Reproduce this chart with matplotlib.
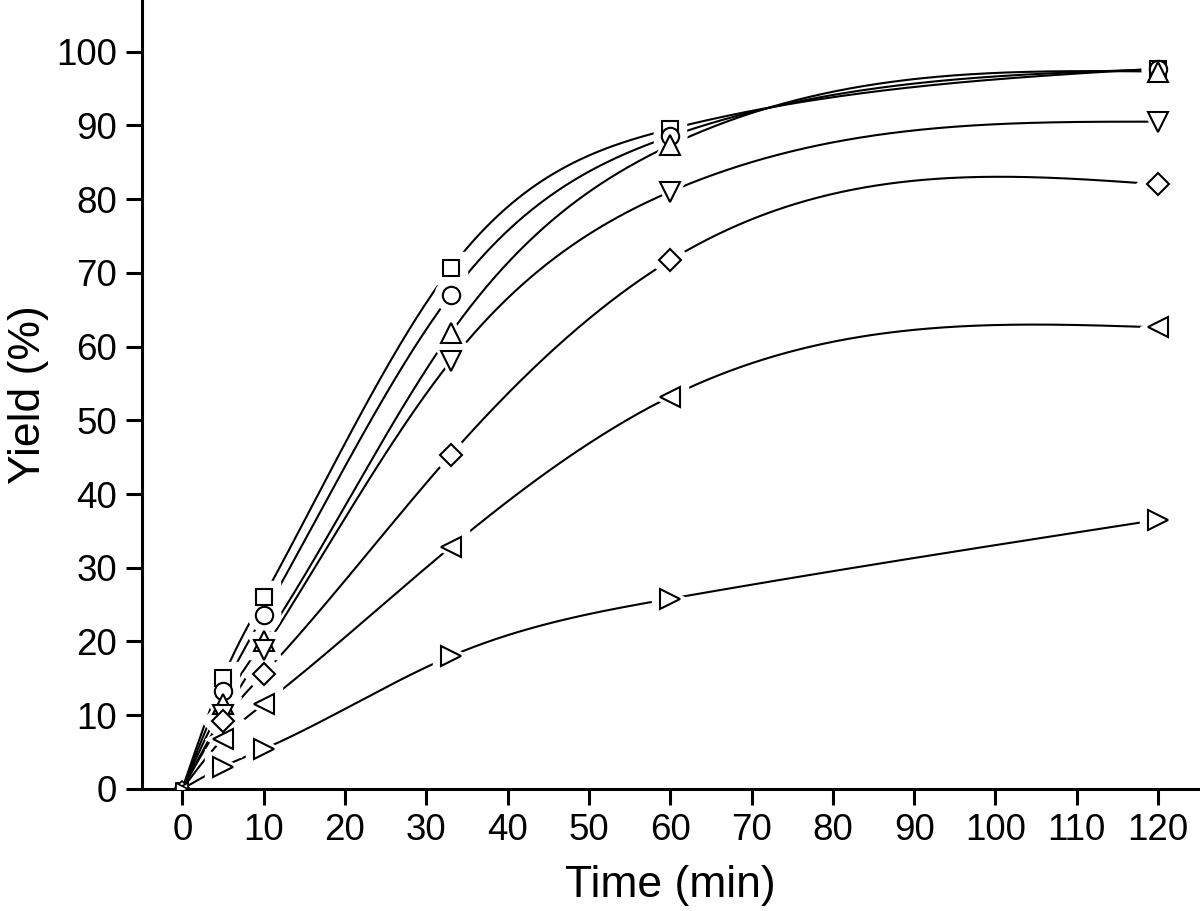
import numpy as np
import matplotlib
matplotlib.use("Agg")
import matplotlib.pyplot as plt

plt.rcParams['font.family'] = ['Liberation Sans', 'DejaVu Sans']

time_min = [0, 5, 10, 33, 60, 120]
series_markers = ['s', 'o', '^', 'v', 'D', '<', '>']
yield_square = [0, 15.1, 26.0, 70.6, 89.5, 97.7]
yield_circle = [0, 13.3, 23.6, 67.0, 88.5, 97.6]
yield_up = [0, 11.5, 20.1, 61.8, 87.3, 97.3]
yield_down = [0, 10.0, 18.8, 58.0, 81.0, 90.5]
yield_diamond = [0, 9.2, 15.6, 45.3, 71.7, 82.0]
yield_left = [0, 6.8, 11.5, 32.8, 53.2, 62.6]
yield_right = [0, 3.0, 5.4, 18.0, 25.8, 36.5]
all_series = [yield_square, yield_circle, yield_up, yield_down,
              yield_diamond, yield_left, yield_right]
x_ticks = list(range(0, 121, 10))
y_ticks = list(range(0, 101, 10))


def natural_spline(x, y, xs):
    x = np.asarray(x, float); y = np.asarray(y, float)
    n = len(x)
    h = np.diff(x)
    A = np.zeros((n, n)); b = np.zeros(n)
    A[0, 0] = 1; A[-1, -1] = 1
    for i in range(1, n - 1):
        A[i, i - 1] = h[i - 1]
        A[i, i] = 2 * (h[i - 1] + h[i])
        A[i, i + 1] = h[i]
        b[i] = 6 * ((y[i + 1] - y[i]) / h[i] - (y[i] - y[i - 1]) / h[i - 1])
    M = np.linalg.solve(A, b)
    out = np.empty_like(xs)
    for k, t in enumerate(xs):
        i = min(max(np.searchsorted(x, t) - 1, 0), n - 2)
        a = x[i + 1] - t; c = t - x[i]
        out[k] = (M[i] * a**3 + M[i + 1] * c**3) / (6 * h[i]) + \
                 (y[i] / h[i] - M[i] * h[i] / 6) * a + \
                 (y[i + 1] / h[i] - M[i + 1] * h[i] / 6) * c
    return out


fig = plt.figure(figsize=(12, 9.11), dpi=100)
ax = fig.add_axes([0.118, 0.134, 0.881, 0.866])

sizes = {'s': 12, 'o': 12.5, '^': 15, 'v': 15, 'D': 11.5, '<': 15, '>': 15}
xs = np.linspace(0, 120, 600)
for mk, ys in zip(series_markers, all_series):
    ax.plot(xs, natural_spline(time_min, ys, xs), color='black', lw=1.5, zorder=2)
for mk, ys in zip(series_markers, all_series):
    ms = sizes[mk]
    ax.plot(time_min[1:], ys[1:], linestyle='none', marker=mk, ms=ms + 11,
            mfc='white', mec='white', mew=1, zorder=3)
for mk, ys in zip(series_markers, all_series):
    ms = sizes[mk]
    ax.plot(time_min[1:], ys[1:], linestyle='none', marker=mk, ms=ms,
            mfc='white', mec='black', mew=1.5, zorder=4)
    ax.plot(time_min[:1], ys[:1], linestyle='none', marker=mk, ms=8,
            mfc='white', mec='black', mew=1.2, zorder=4)

ax.set_xlim(-5, 125)
ax.set_ylim(0, 107)
ax.set_xticks(x_ticks)
ax.set_yticks(y_ticks)
ax.spines['top'].set_visible(False)
ax.spines['right'].set_visible(False)
for s in ['left', 'bottom']:
    ax.spines[s].set_linewidth(2.2)
ax.tick_params(axis='both', direction='out', length=11.5, width=2.2,
               labelsize=26.5, pad=6)
ax.set_xlabel('Time (min)', fontsize=32, labelpad=12)
ax.set_ylabel('Yield (%)', fontsize=32, labelpad=5)
fig.savefig('out.png', dpi=100)
